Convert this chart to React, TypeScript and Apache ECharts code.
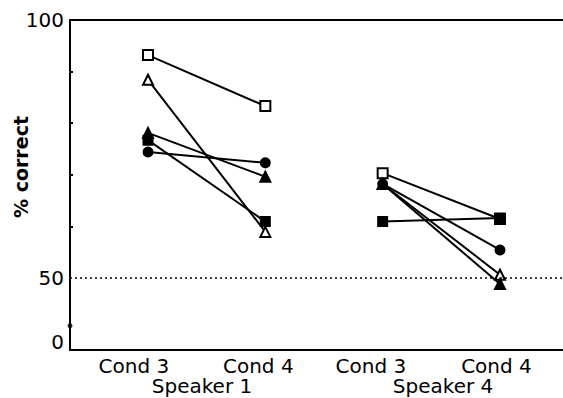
import React, { useEffect, useRef } from "react";
import * as echarts from "echarts";

// Condition positions on the x axis (value axis units)
const speaker1X = [1, 2];
const speaker4X = [3, 4];

const condLabels = ["Cond 3", "Cond 4", "Cond 3", "Cond 4"];
const condLabelPos = [0.88, 1.94, 2.9, 3.97];
const speakerLabels = ["Speaker 1", "Speaker 4"];
const speakerLabelPos = [1.46, 3.515];

const yTickLabelValues = [37.6, 50, 100];
const yTickLabelTexts = ["0", "50", "100"];
const yMinorTicks = [60, 70, 80, 90];
const chanceLevel = 50;
const axisBreakMark = [0.335, 40.7];

// Listeners (symbol per listener)
const listenerSymbols = ["emptyRect", "emptyTriangle", "triangle", "circle", "rect"];
const listenerSymbolSizes = [10, 10, 10, 9, 9];
const speaker1Cond3 = [93.2, 88.4, 78.1, 74.4, 76.7];
const speaker1Cond4 = [83.3, 58.9, 69.6, 72.3, 60.9];
const speaker4Cond3 = [70.3, 68.2, 68.2, 68.2, 60.9];
const speaker4Cond4 = [61.4, 50.6, 48.8, 55.4, 61.6];

const FONT = "DejaVu Sans";

function nearestIndex(arr: number[], v: number) {
  let best = 0;
  for (let i = 1; i < arr.length; i++) {
    if (Math.abs(arr[i] - v) < Math.abs(arr[best] - v)) best = i;
  }
  return best;
}

export default function App() {
  const ref = useRef<HTMLDivElement>(null);
  useEffect(() => {
    document.body.style.margin = "0";
    if (!ref.current) return;
    const chart = echarts.init(ref.current, null, { renderer: "svg" });

    const series: any[] = [];
    listenerSymbols.forEach((sym, i) => {
      const common = {
        type: "line",
        symbol: sym,
        symbolSize: listenerSymbolSizes[i],
        lineStyle: { color: "#000", width: 2 },
        itemStyle: { color: "#000", borderColor: "#000", borderWidth: 2 },
        z: 3,
      };
      series.push({
        ...common,
        xAxisIndex: 0,
        data: [
          [speaker1X[0], speaker1Cond3[i]],
          [speaker1X[1], speaker1Cond4[i]],
        ],
      });
      series.push({
        ...common,
        xAxisIndex: 0,
        data: [
          [speaker4X[0], speaker4Cond3[i]],
          [speaker4X[1], speaker4Cond4[i]],
        ],
      });
    });
    series.push({
      type: "scatter",
      xAxisIndex: 0,
      symbol: "circle",
      symbolSize: 5,
      itemStyle: { color: "#000" },
      data: [axisBreakMark],
      markLine: {
        silent: true,
        symbol: "none",
        label: { show: false },
        lineStyle: { color: "#000", type: [2, 3], width: 1.5 },
        data: [{ yAxis: chanceLevel }],
      },
    });

    chart.setOption({
      animation: false,
      grid: { left: 70, right: -5, top: 20, bottom: 48, outerBoundsMode: "none", containLabel: false },
      xAxis: [
        {
          type: "value",
          position: "bottom",
          min: 0.3352,
          max: 4.5796,
          splitLine: { show: false },
          axisLine: { show: true, lineStyle: { color: "#000", width: 2 } },
          axisTick: { show: false },
          axisLabel: {
            customValues: condLabelPos,
            formatter: (v: number) => condLabels[nearestIndex(condLabelPos, v)],
            color: "#000",
            fontFamily: FONT,
            fontSize: 20,
            margin: 6,
            showMinLabel: true,
            showMaxLabel: true,
          },
        },
        {
          type: "value",
          position: "bottom",
          min: 0.3352,
          max: 4.5796,
          splitLine: { show: false },
          axisLine: { show: false },
          axisTick: { show: false },
          axisLabel: {
            customValues: speakerLabelPos,
            formatter: (v: number) => speakerLabels[nearestIndex(speakerLabelPos, v)],
            color: "#000",
            fontFamily: FONT,
            fontSize: 20,
            margin: 26,
          },
        },
        {
          type: "value",
          position: "top",
          min: 0.3352,
          max: 4.5796,
          splitLine: { show: false },
          axisLine: { show: true, lineStyle: { color: "#000", width: 2 } },
          axisTick: { show: false },
          axisLabel: { show: false },
        },
      ],
      yAxis: {
        type: "value",
        min: 36,
        max: 100,
        splitLine: { show: false },
        axisLine: { show: true, lineStyle: { color: "#000", width: 2 } },
        axisTick: {
          show: true,
          inside: true,
          length: 3,
          customValues: yMinorTicks,
          lineStyle: { color: "#000", width: 2 },
        },
        axisLabel: {
          customValues: yTickLabelValues,
          formatter: (v: number) => yTickLabelTexts[nearestIndex(yTickLabelValues, v)],
          color: "#000",
          fontFamily: FONT,
          fontSize: 20,
          margin: 6,
          showMinLabel: true,
          showMaxLabel: true,
        },
        name: "% correct",
        nameLocation: "middle",
        nameRotate: 90,
        nameGap: 40,
        nameMoveOverlap: false,
        nameTextStyle: {
          color: "#000",
          fontFamily: FONT,
          fontSize: 19,
          fontWeight: "bold",
          padding: [0, 0, 0, 36],
        },
      },
      series,
    });
    return () => chart.dispose();
  }, []);
  return <div ref={ref} style={{ width: 563, height: 398 }} />;
}
